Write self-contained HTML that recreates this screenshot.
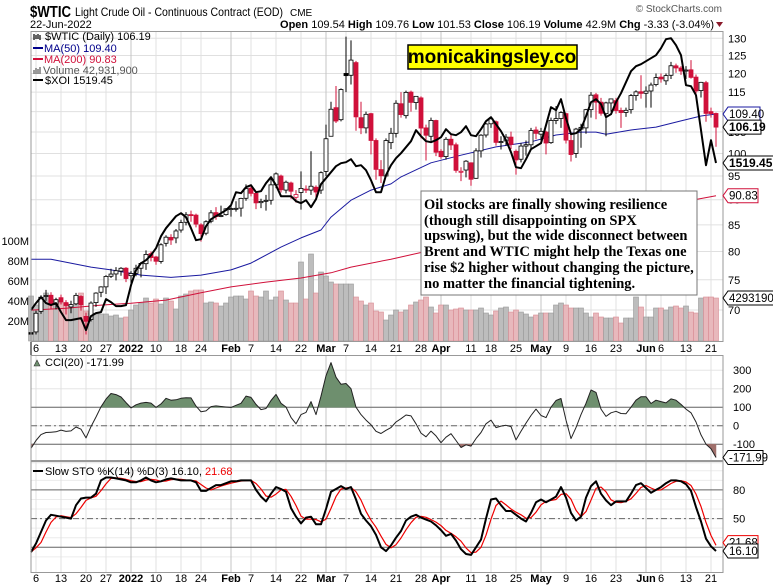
<!DOCTYPE html>
<html><head><meta charset="utf-8"><style>
html,body{margin:0;padding:0;background:#fff;}
svg{display:block;font-family:"Liberation Sans",Arial,sans-serif;}
</style></head><body>
<svg id="chart" width="773" height="588" viewBox="0 0 773 588" xmlns="http://www.w3.org/2000/svg">
<rect x="0" y="0" width="773" height="588" fill="#fff"/>
<g>
<text x="30" y="17" font-size="16" font-weight="bold" textLength="41" lengthAdjust="spacingAndGlyphs">$WTIC</text>
<text x="75" y="16" font-size="12" textLength="208" lengthAdjust="spacingAndGlyphs">Light Crude Oil - Continuous Contract (EOD)</text>
<text x="290" y="16" font-size="10">CME</text>
<text x="30" y="28" font-size="11">22-Jun-2022</text>
<text x="722" y="12" font-size="10" fill="#555" text-anchor="end">© StockCharts.com</text>
<text x="714" y="28" font-size="11" text-anchor="end"><tspan font-weight="bold">Open</tspan> 109.54 <tspan font-weight="bold">High</tspan> 109.76 <tspan font-weight="bold">Low</tspan> 101.53 <tspan font-weight="bold">Close</tspan> 106.19 <tspan font-weight="bold">Volume</tspan> 42.9M <tspan font-weight="bold">Chg</tspan> -3.33 (-3.04%)</text>
<polygon points="716,22 723,22 719.5,27" fill="#8b1a2b"/>
</g>
<g id="grid"></g>
<g id="vol"></g>
<g id="lines"></g>
<g id="candles"></g>
<g id="over"></g>
<rect x="31" y="31.5" width="692" height="310" fill="none" stroke="#999"/>
<rect x="31" y="355.5" width="692" height="105" fill="none" stroke="#999"/>
<rect x="31" y="461.5" width="692" height="111" fill="none" stroke="#999"/>
<g font-size="11">
<text x="45" y="40">$WTIC (Daily) 106.19</text>
<path d="M34,34v6M36,35v4M38,34v5M40,35v5" stroke="#000" stroke-width="1.2"/>
<line x1="33" y1="48" x2="43" y2="48" stroke="#00008b" stroke-width="2"/>
<text x="44" y="52" fill="#00008b">MA(50) 109.40</text>
<line x1="33" y1="59" x2="43" y2="59" stroke="#d0103a" stroke-width="2"/>
<text x="44" y="63" fill="#d0103a">MA(200) 90.83</text>
<path d="M34,74v-4M36,74v-6M38,74v-5M40,74v-7" stroke="#777" stroke-width="1.5"/>
<text x="43" y="74" fill="#555">Volume 42,931,900</text>
<line x1="33" y1="80" x2="43" y2="80" stroke="#000" stroke-width="2"/>
<text x="45" y="84">$XOI 1519.45</text>
</g>
<g>
<rect x="408" y="45" width="169" height="24" fill="#ffff00" stroke="#000" stroke-width="1.5"/>
<text x="492" y="63" font-size="19" font-weight="bold" text-anchor="middle">monicakingsley.co</text>
</g>
<g>
<rect x="421" y="191" width="276" height="104" fill="#fff" stroke="#777"/>
<text x="424" y="209" font-family="'Liberation Serif',serif" font-size="14.5" font-weight="bold">
<tspan x="424" y="209">Oil stocks are finally showing resilience</tspan>
<tspan x="424" y="225">(though still disappointing on SPX</tspan>
<tspan x="424" y="240">upswing), but the wide disconnect between</tspan>
<tspan x="424" y="256">Brent and WTIC might help the Texas one</tspan>
<tspan x="424" y="272">rise $2 higher without changing the picture,</tspan>
<tspan x="424" y="288">no matter the financial tightening.</tspan>
</text>
</g>
<g>
<path d="M34,366l3,-6l3,6z" fill="#6e8f6e" stroke="#333" stroke-width="0.6"/>
<text x="45" y="366" font-size="11">CCI(20) -171.99</text>
</g>
<g>
<line x1="33" y1="471" x2="43" y2="471" stroke="#000" stroke-width="2"/>
<text x="45" y="475" font-size="11">Slow STO %K(14) %D(3) 16.10, <tspan fill="#e00">21.68</tspan></text>
</g>
<g id="right"></g>
</svg>
<script>
const dayIdxStart = -1;
const openP = [66.5,66.6,69.8,72.3,72.4,70.9,72.0,71.2,70.5,71.0,72.2,69.0,68.5,71.2,72.9,73.8,75.6,76.0,76.5,77.0,
75.7,76.1,77.0,77.8,79.6,79.0,78.2,81.5,82.6,82.5,84.0,85.5,87.0,86.9,85.0,83.4,85.7,87.4,86.7,87.0,
88.2,88.1,88.3,90.3,92.4,91.3,89.4,89.7,89.9,93.1,95.0,92.0,93.5,90.5,91.5,92.2,92.0,92.6,92.0,
96.0,104.0,111.0,108.0,120.0,119.5,123.0,108.5,106.0,109.5,103.0,96.4,95.0,102.5,104.7,112.0,109.0,115.0,112.3,113.5,106.0,104.0,107.8,
100.5,99.3,103.3,102.0,96.0,96.3,97.9,94.5,100.6,104.3,107.0,107.5,102.6,102.9,103.8,100.5,98.7,101.7,102.0,105.5,
104.5,105.0,102.5,107.8,108.3,109.5,103.0,100.0,105.7,106.0,110.5,114.3,112.4,109.5,112.2,112.8,110.3,109.8,110.5,114.1,115.1,
114.7,115.3,117.0,119.0,118.0,119.5,122.1,121.5,120.7,121.0,119.0,115.4,117.5,110.0,109.54];
const highP = [69.8,69.9,72.4,73.3,72.9,72.0,72.5,71.6,71.5,72.8,72.4,69.6,71.4,72.9,73.9,75.8,76.9,77.2,77.2,77.2,
76.5,77.6,78.1,80.2,80.0,79.2,81.5,83.0,83.2,84.2,86.0,87.5,87.8,87.2,85.3,85.9,87.9,88.5,88.8,88.3,
88.8,89.7,90.4,93.2,93.0,91.5,90.2,91.0,94.7,95.8,95.3,94.0,93.8,92.0,96.0,93.0,100.5,93.0,96.0,
106.8,112.5,116.6,116.0,130.5,129.4,123.5,112.5,110.0,109.7,103.5,98.5,103.5,106.0,112.9,115.0,115.4,115.4,114.0,113.9,106.8,108.5,108.0,
101.0,103.8,104.6,102.5,96.9,98.5,98.0,101.2,104.5,107.2,108.6,107.8,104.0,104.5,105.1,100.9,102.4,103.0,106.0,106.3,
106.0,105.3,108.5,111.4,110.1,109.7,104.5,106.0,107.0,110.7,115.0,114.8,113.5,112.5,113.3,113.5,111.0,111.0,114.5,115.5,119.5,
116.5,117.5,120.0,120.0,120.0,123.2,122.7,122.0,122.0,123.7,119.7,117.7,118.0,111.0,109.76];
const lowP = [62.4,66.2,69.4,71.5,70.2,70.1,70.9,69.3,69.5,70.8,69.9,66.2,68.2,70.5,72.1,72.6,75.3,74.9,75.7,74.6,
74.3,75.6,75.4,76.7,78.2,77.6,77.8,80.9,81.2,81.5,83.5,84.9,85.6,84.5,81.8,83.0,85.3,86.0,86.5,86.8,
86.6,87.6,86.6,89.8,90.7,88.1,88.3,87.8,89.0,92.4,91.5,91.3,90.2,89.4,88.0,91.4,91.0,90.1,91.2,
95.0,104.0,107.2,107.6,115.0,117.0,105.3,104.5,104.7,99.8,94.2,93.5,94.8,101.0,103.7,108.5,108.3,110.0,110.5,103.5,98.4,102.9,99.4,
98.8,98.6,100.8,95.7,93.9,94.7,92.9,94.4,99.1,103.7,106.0,101.8,100.9,101.8,101.0,95.3,98.0,99.5,100.9,103.3,
103.0,99.8,102.2,106.9,106.0,102.3,98.2,99.0,101.3,104.6,108.5,108.1,109.0,104.0,110.0,109.5,106.0,108.7,109.5,112.8,113.3,
111.0,111.0,116.5,117.5,116.9,118.5,120.2,119.6,118.5,118.6,114.4,113.6,107.5,108.5,101.53];
const closeP = [66.26,69.49,72.05,72.36,70.94,71.67,71.29,70.73,70.87,72.38,70.86,68.23,71.12,72.76,73.79,75.57,75.98,76.56,76.99,75.21,
76.08,76.99,77.85,79.46,78.90,78.23,81.22,82.64,82.12,83.82,85.43,86.96,86.90,85.14,83.31,85.60,87.35,86.61,86.82,88.15,
88.20,88.26,90.27,92.31,91.32,89.36,89.66,89.88,93.10,95.46,92.07,93.66,91.76,91.07,92.35,92.10,92.81,91.59,95.72,
103.41,110.60,107.67,115.68,119.40,123.70,108.70,106.02,109.33,103.01,96.44,95.04,102.98,104.70,112.12,109.27,114.93,112.34,113.90,105.96,104.24,107.82,100.28,
99.27,103.28,101.96,96.23,96.03,98.26,94.29,100.60,104.25,106.95,108.21,102.56,102.75,103.79,102.07,98.54,101.70,102.02,105.36,104.69,
105.17,102.41,107.81,108.26,109.77,103.09,99.76,105.71,106.13,110.49,114.20,112.40,109.59,112.21,113.23,110.29,109.77,110.33,114.09,115.07,114.67,
115.26,116.87,118.87,118.50,119.41,122.11,121.51,120.67,120.93,118.93,115.31,117.59,109.56,109.52,106.19];
const volumeM = [45,36,44,48,42,40,38,38,33,45,48,30,28,27,27,27,25,26,23,24,
31,36,38,43,38,42,37,43,40,32,45,47,50,51,51,38,39,38,35,38,
44,45,45,42,50,45,44,50,41,44,50,41,38,38,79,42,87,48,69,
65,59,57,57,57,57,44,40,36,38,30,
29,21,26,31,29,31,36,39,41,44,34,28,36,36,31,32,33,31,31,31,33,28,26,30,33,34,29,31,29,27,24,26,28,28,28,36,38,36,33,33,33,28,24,28,24,23,23,24,18,23,23,44,34,24,24,33,33,31,34,35,33,35,29,28,43,44,44,43];
const xoi = [1078,1099,1117,1099,1093,1099,1072,1048,1048,1051,1054,1018,1060,1069,1072,1111,1102,1090,1090,1093,
1153,1198,1219,1228,1243,1264,1300,1324,1342,1360,1369,1357,1324,1288,1291,1330,1351,1360,1369,1378,
1393,1432,1429,1447,1453,1432,1435,1459,1477,1453,1420,1420,1420,1405,1399,1408,1387,1411,1456,
1474,1492,1510,1519,1522,1531,1510,1513,1498,1468,1432,1432,1483,1513,1534,1549,1567,1585,1618,1600,1585,1582,1588,
1597,1621,1606,1603,1612,1630,1603,1600,1621,1645,1657,1636,1615,1588,1552,1507,1504,1531,1561,1570,
1579,1633,1687,1678,1711,1654,1606,1609,1621,1660,1702,1711,1696,1657,1666,1702,1729,1762,1795,1810,1816,
1825,1834,1843,1864,1891,1894,1873,1843,1753,1750,1723,1618,1513,1588,1519.45];
const ma50Idx = [-1,3,11,15,21,27,33,39,43,49,53,57,59,63,67,71,73,79,85,92,99,104,109,112,114,119,124,129,133,136];
const ma50Val = [78.6,78.6,77.2,76.7,75.8,75.4,75.8,76.7,77.9,80.8,82.5,84.0,86.5,89.9,92.0,93.3,94.8,97.9,99.6,101.5,102.7,104.3,105.0,105.0,104.5,105.5,106.2,107.7,108.9,109.4];
const ma200Idx = [-1,6,13,19,26,33,39,46,53,59,63,71,77,90,105,120,136];
const ma200Val = [70.0,70.3,70.8,71.1,71.6,72.8,73.8,74.6,75.3,76.2,77.2,78.6,79.8,82.3,85.1,87.8,90.83];
const cci = [-122,-80,-48,-37,-35,-33,-24,-31,-28,-7,-19,-66,-5,47,102,144,174,168,155,125,
96,113,122,126,122,99,118,148,138,140,148,151,150,106,75,80,103,107,104,101,
99,110,121,160,153,115,87,93,136,169,121,101,45,10,60,72,130,60,160,
270,341,262,224,228,200,100,60,30,5,-30,-42,-25,-10,20,38,58,53,10,-40,-60,-29,-55,
-92,-62,-43,-80,-118,-103,-110,-70,-37,10,30,-10,-2,2,-5,-77,-30,14,55,90,
55,44,100,136,147,30,-70,-10,60,121,193,180,90,50,70,78,66,65,100,138,157,
157,120,138,130,123,145,138,115,90,70,20,-50,-100,-125,-171.99];
const stoK = [15,24,36,48,54,53,52,51,50,64,71,72,72,76,90,93,93,92,91,90,
88,88,90,93,90,88,89,91,92,91,90,90,90,88,79,79,82,85,85,87,
89,89,90,90,90,80,73,68,76,83,81,78,61,52,45,51,52,44,44,
60,78,81,84,81,83,70,55,48,42,33,20,16,22,30,37,48,52,54,51,49,47,43,
38,32,34,27,18,13,12,20,28,50,70,71,64,58,58,54,50,47,56,67,
70,67,70,73,83,72,56,48,52,72,84,89,76,69,64,68,68,68,76,85,87,
82,77,80,83,87,90,90,89,86,79,62,47,29,21,16.10];
const tickIdx = [0,5,10,14,19,24,29,33,39,43,48,53,58,62,67,72,77,81,87,91,96,101,106,111,116,122,125,130,135];
const tickLabels = ["6","13","20","27","2022","10","18","24","Feb","7","14","22","Mar","7","14","21","28","Apr","11","18","25","May","9","16","23","Jun","6","13","21"];
const monthTick = [false,false,false,false,true,false,false,false,true,false,false,false,true,false,false,false,false,true,false,false,false,true,false,false,false,true,false,false,false];
const priceTicks = [70,75,80,85,90,95,100,105,110,115,120,125,130];
const volTicks = [20,40,60,80,100];
const cciTicks = [300,200,100,0,-100];
const stoTicks = [80,50,20];

const NS = 'http://www.w3.org/2000/svg';
function mk(tag, attrs, parent) {
  const e = document.createElementNS(NS, tag);
  for (const k in attrs) e.setAttribute(k, attrs[k]);
  parent.appendChild(e);
  return e;
}
const gGrid = document.getElementById('grid');
const gVol = document.getElementById('vol');
const gLines = document.getElementById('lines');
const gC = document.getElementById('candles');
const gOver = document.getElementById('over');
const gR = document.getElementById('right');

const xOf = i => 36 + 5 * i;
const yP = p => 38.3 + (Math.log(130) - Math.log(p)) * 439;
const yV = v => 341 - v;
const yX = v => 163 - (v - 1519.45) / 3;
const yC = v => 425.7 - v * 0.185;
const yS = v => 566.4 - v * 0.956;
const L = 31, R = 723;

priceTicks.forEach(p => {
  const l = mk('line', {x1: L, x2: R, y1: yP(p), y2: yP(p), stroke: '#e0e0e0'}, gGrid);
  
  
  const t = mk('text', {x: 728, y: yP(p) + 4, 'font-size': 11}, gR);
  t.textContent = p;
  
  
});
volTicks.forEach(v => {
  const t = mk('text', {x: 29, y: yV(v) + 4, 'font-size': 11, 'text-anchor': 'end'}, gR);
  t.textContent = v + 'M';
  
  
});
[300,200,100,0,-100,-200].forEach(v => {
  const l = mk('line', {x1: L, x2: R, y1: yC(v), y2: yC(v), stroke: '#e6e6e6'}, gGrid);
  
  
});
for (let v = 10; v <= 100; v += 10) {
  const l = mk('line', {x1: L, x2: R, y1: yS(v), y2: yS(v), stroke: '#ececec'}, gGrid);
  
  
}
tickIdx.forEach((ti, k) => {
  const x = xOf(ti);
  [[31,341],[355,460],[461,572]].forEach(r => {
    const l = mk('line', {x1: x, x2: x, y1: r[0], y2: r[1], stroke: monthTick[k] ? '#c4c4c4' : '#e0e0e0'}, gGrid);
    
    
  });
  [352, 582].forEach(yy => {
    const t = mk('text', {x: x, y: yy, 'font-size': 11, 'text-anchor': 'middle', 'font-weight': monthTick[k] ? 'bold' : 'normal'}, gR);
    t.textContent = tickLabels[k];
    
    
  });
});
[[yC(100),''],[yC(-100),''],[yC(0),'6,3,2,3']].forEach(a => {
  const l = mk('line', {x1: L, x2: R, y1: a[0], y2: a[0], stroke: '#666', 'stroke-dasharray': a[1]}, gGrid);
  
  
});
[[yS(80),''],[yS(20),''],[yS(50),'6,3,2,3']].forEach(a => {
  const l = mk('line', {x1: L, x2: R, y1: a[0], y2: a[0], stroke: '#666', 'stroke-dasharray': a[1]}, gGrid);
  
  
});
cciTicks.forEach(v => {
  const t = mk('text', {x: 733, y: yC(v) + 4, 'font-size': 11}, gR);
  t.textContent = v;
  
  
});
stoTicks.forEach(v => {
  const t = mk('text', {x: 733, y: yS(v) + 4, 'font-size': 11}, gR);
  t.textContent = v;
  
  
});

volumeM.forEach((v, k) => {
  const i = k + dayIdxStart, x = xOf(i);
  const down = k > 0 && closeP[k] < closeP[k - 1];
  const b = mk('rect', {x: x - 2.5, y: yV(v), width: 5, height: v, fill: down ? '#e8b8bc' : '#bdbdbd', stroke: down ? '#d88c94' : '#999', 'stroke-width': 0.6}, gVol);
  
  
});

function poly(idxArr, valArr, yf, color, w, name, parent) {
  const pts = valArr.map((v, k) => xOf(idxArr[k]).toFixed(1) + ',' + yf(v).toFixed(1)).join(' ');
  const p = mk('polyline', {points: pts, fill: 'none', stroke: color, 'stroke-width': w, 'stroke-linejoin': 'round'}, parent);
  
  
  return p;
}
poly(ma200Idx, ma200Val, yP, '#d0103a', 1, 'ma200-line', gLines);
poly(ma50Idx, ma50Val, yP, '#1a1aa0', 1, 'ma50-line', gLines);

closeP.forEach((c, k) => {
  const i = k + dayIdxStart, x = xOf(i), o = openP[k];
  const col = (k > 0 && c < closeP[k - 1]) ? '#d0103a' : '#000';
  const w = mk('line', {x1: x, x2: x, y1: yP(highP[k]), y2: yP(lowP[k]), stroke: col, 'stroke-width': 1}, gC);
  
  
  const top = yP(Math.max(o, c)), bot = yP(Math.min(o, c));
  const r = mk('rect', {x: x - 2, y: top, width: 4, height: Math.max(1, bot - top), fill: c < o ? col : '#fff', stroke: col, 'stroke-width': 0.8}, gC);
  
  
});
const idxAll = closeP.map((c, k) => k + dayIdxStart);
poly(idxAll, xoi, yX, '#000', 2, 'xoi-line', gOver);

function fillBand(thr, above, color, name) {
  let d = '';
  for (let k = 0; k < cci.length - 1; k++) {
    const a = cci[k], b = cci[k + 1];
    const ia = above ? a > thr : a < thr, ib = above ? b > thr : b < thr;
    if (!ia && !ib) continue;
    let x1 = xOf(k + dayIdxStart), x2 = xOf(k + 1 + dayIdxStart), v1 = a, v2 = b;
    if (!ia) { x1 = x1 + (x2 - x1) * (thr - a) / (b - a); v1 = thr; }
    if (!ib) { x2 = x1 + (x2 - x1) * (thr - v1) / (b - v1); v2 = thr; }
    d += 'M' + x1 + ',' + yC(thr) + 'L' + x1 + ',' + yC(v1) + 'L' + x2 + ',' + yC(v2) + 'L' + x2 + ',' + yC(thr) + 'Z';
  }
  const p = mk('path', {d: d, fill: color, stroke: color, 'stroke-width': 0.5}, gOver);
  
  
}
fillBand(100, true, '#6e8f6e', 'cci-overbought-fill');
fillBand(-100, false, '#a0706c', 'cci-oversold-fill');
poly(idxAll, cci, yC, '#222', 1, 'cci-line', gOver);

const stoD = stoK.map((v, k) => {
  const s = stoK.slice(Math.max(0, k - 2), k + 1);
  return s.reduce((a, b) => a + b, 0) / s.length;
});
poly(idxAll, stoD, yS, '#e00', 1.2, 'sto-d-line', gOver);
poly(idxAll, stoK, yS, '#000', 2, 'sto-k-line', gOver);

function vbox(y, txt, color, bold, w, name) {
  const x0 = 723;
  const p = mk('polygon', {points: `${x0},${y} ${x0+5},${y-7} ${x0+w},${y-7} ${x0+w},${y+7} ${x0+5},${y+7}`, fill: '#fff', stroke: color, 'stroke-width': 1}, gR);
  
  
  const t = mk('text', {x: x0 + 6, y: y + 4, 'font-size': bold ? 12 : 11.5, 'font-weight': bold ? 'bold' : 'normal', fill: '#000'}, gR);
  t.textContent = txt;
  
  
}
vbox(yP(109.4), '109.40', '#1a1aa0', false, 37, 'ma50-value');
vbox(yP(106.19), '106.19', '#000', true, 38, 'price-value');
vbox(yX(1519.45), '1519.45', '#000', true, 52, 'xoi-value');
vbox(yP(90.83), '90.83', '#d0103a', false, 35, 'ma200-value');
vbox(yV(43), '4293190', '#000', false, 52, 'volume-value');
vbox(yC(-171.99), '-171.99', '#000', false, 40, 'cci-value');
vbox(yS(21.68) - 3, '21.68', '#e00', false, 35, 'sto-d-value');
vbox(yS(16.10), '16.10', '#000', false, 35, 'sto-k-value');
</script>
</body></html>
